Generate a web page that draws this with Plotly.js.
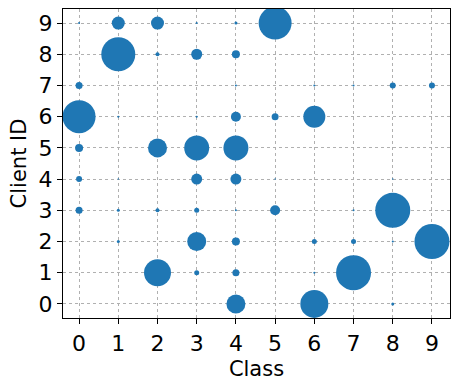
<!DOCTYPE html>
<html>
<head>
<meta charset="utf-8">
<script src="https://cdn.plot.ly/plotly-3.0.1.min.js"></script>
<style>
  body { margin: 0; background: #fff; }
  #chart { width: 459px; height: 389px; }
</style>
</head>
<body>
<div id="chart"></div>
<script>
// samples per (client, class) pair
const classes = [0, 1, 2, 3, 4, 5,
                 1, 2, 3, 4,
                 0, 4, 6, 7, 8, 9,
                 0, 1, 3, 4, 5, 6,
                 0, 2, 3, 4,
                 0, 1, 3, 4, 5, 8,
                 0, 1, 2, 3, 4, 5, 7, 8,
                 1, 3, 4, 6, 7, 8, 9,
                 2, 3, 4, 6, 7,
                 4, 6, 8];
const clients = [9, 9, 9, 9, 9, 9,
                 8, 8, 8, 8,
                 7, 7, 7, 7, 7, 7,
                 6, 6, 6, 6, 6, 6,
                 5, 5, 5, 5,
                 4, 4, 4, 4, 4, 4,
                 3, 3, 3, 3, 3, 3, 3, 3,
                 2, 2, 2, 2, 2, 2, 2,
                 1, 1, 1, 1, 1,
                 0, 0, 0];
const counts = [16, 676, 676, 16, 36, 4356,
                4624, 64, 484, 256,
                196, 16, 16, 16, 144, 144,
                4356, 16, 16, 400, 196, 1936,
                256, 1444, 2500, 2500,
                144, 9, 484, 484, 9, 9,
                196, 36, 64, 100, 16, 400, 16, 4900,
                36, 1444, 256, 100, 100, 16, 4900,
                2916, 100, 196, 16, 4900,
                1444, 3136, 36];

const tickVals = [0, 1, 2, 3, 4, 5, 6, 7, 8, 9];

const trace = {
  x: classes,
  y: clients,
  mode: 'markers',
  type: 'scatter',
  marker: {
    size: counts,
    sizemode: 'area',
    sizeref: 8,
    color: '#1f77b4',
    opacity: 1,
    line: { width: 0 }
  },
  hoverinfo: 'x+y'
};

const axisBase = {
  showline: true,
  mirror: true,
  linecolor: '#000',
  linewidth: 1.2,
  ticks: 'outside',
  ticklen: 5,
  tickwidth: 1,
  tickcolor: '#000',
  showgrid: true,
  gridcolor: '#b0b0b0',
  gridwidth: 1,
  griddash: 'dot',
  zeroline: false,
  tickmode: 'array',
  tickvals: tickVals,
  tickfont: { size: 22, color: '#000' }
};

const layout = {
  width: 459,
  height: 389,
  margin: { l: 63, r: 9, t: 9, b: 71 },
  paper_bgcolor: '#fff',
  plot_bgcolor: '#fff',
  font: { family: 'DejaVu Sans', color: '#000' },
  showlegend: false,
  xaxis: Object.assign({}, axisBase, {
    range: [-0.41, 9.46],
    title: { text: 'Class', font: { size: 21 }, standoff: 6 }
  }),
  yaxis: Object.assign({}, axisBase, {
    range: [-0.45, 9.45],
    title: { text: 'Client ID', font: { size: 21 }, standoff: 6 }
  })
};

Plotly.newPlot('chart', [trace], layout, { displayModeBar: false, staticPlot: true });
</script>
</body>
</html>
